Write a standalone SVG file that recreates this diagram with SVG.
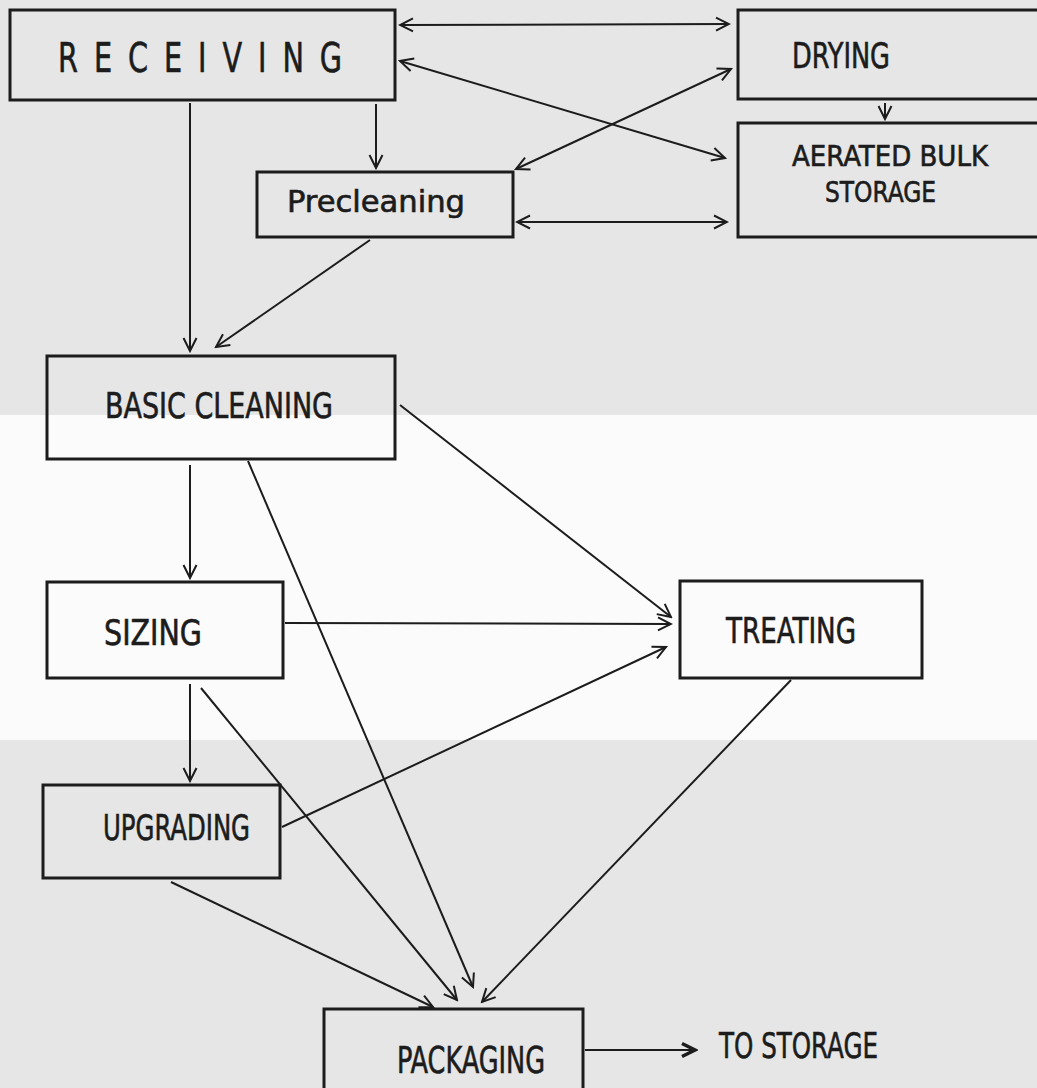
<svg xmlns="http://www.w3.org/2000/svg" width="1037" height="1088" viewBox="0 0 1037 1088">
  <style>
    .box { fill: none; stroke: #1c1c1c; stroke-width: 3; }
    .lbl { font-family: "DejaVu Sans Condensed", "DejaVu Sans", sans-serif; font-stretch: condensed; fill: #1c1c1c; stroke: #1c1c1c; stroke-width: 0.6; }
    .conn path { fill: none; stroke: #1c1c1c; stroke-width: 2; }
  </style>
  <defs>
    <marker id="ah" markerUnits="userSpaceOnUse" markerWidth="16" markerHeight="16" refX="14" refY="8" orient="auto-start-reverse">
      <path d="M1,1.5 L14,8 L1,14.5" fill="none" stroke="#1c1c1c" stroke-width="2"/>
    </marker>
    <marker id="ahb" markerUnits="userSpaceOnUse" markerWidth="18" markerHeight="18" refX="15" refY="9" orient="auto">
      <path d="M2,2.5 L15,9 L2,15.5" fill="none" stroke="#1c1c1c" stroke-width="3.5"/>
    </marker>
  </defs>

  <!-- paper background -->
  <rect x="0" y="0" width="1037" height="1088" fill="#e6e6e6"/>
  <rect x="0" y="415" width="1037" height="325" fill="#fbfbfb"/>

  <g id="receiving">
    <rect class="box" x="10" y="10" width="385" height="90"/>
    <text class="lbl" x="58" y="72" font-size="40" letter-spacing="20" textLength="300" lengthAdjust="spacingAndGlyphs">RECEIVING</text>
  </g>
  <g id="precleaning">
    <rect class="box" x="257" y="172" width="256" height="65"/>
    <text class="lbl" x="287" y="212" font-size="30" textLength="178" lengthAdjust="spacingAndGlyphs">Precleaning</text>
  </g>
  <g id="drying">
    <rect class="box" x="738" y="10" width="310" height="89"/>
    <text class="lbl" x="792" y="68" font-size="35" textLength="98" lengthAdjust="spacingAndGlyphs">DRYING</text>
  </g>
  <g id="aerated-bulk-storage">
    <rect class="box" x="738" y="123" width="310" height="114"/>
    <text class="lbl" x="792" y="166" font-size="29" textLength="196" lengthAdjust="spacingAndGlyphs">AERATED BULK</text>
    <text class="lbl" x="825" y="202" font-size="29" textLength="111" lengthAdjust="spacingAndGlyphs">STORAGE</text>
  </g>
  <g id="basic-cleaning">
    <rect class="box" x="47" y="356" width="348" height="103"/>
    <text class="lbl" x="105" y="418" font-size="36" textLength="228" lengthAdjust="spacingAndGlyphs">BASIC CLEANING</text>
  </g>
  <g id="sizing">
    <rect class="box" x="47" y="582" width="236" height="96"/>
    <text class="lbl" x="104" y="645" font-size="36" textLength="98" lengthAdjust="spacingAndGlyphs">SIZING</text>
  </g>
  <g id="treating">
    <rect class="box" x="680" y="581" width="242" height="97"/>
    <text class="lbl" x="726" y="643" font-size="36" textLength="130" lengthAdjust="spacingAndGlyphs">TREATING</text>
  </g>
  <g id="upgrading">
    <rect class="box" x="43" y="785" width="237" height="93"/>
    <text class="lbl" x="103" y="840" font-size="36" textLength="147" lengthAdjust="spacingAndGlyphs">UPGRADING</text>
  </g>
  <g id="packaging">
    <rect class="box" x="324" y="1009" width="259" height="90"/>
    <text class="lbl" x="397" y="1073" font-size="37" textLength="148" lengthAdjust="spacingAndGlyphs">PACKAGING</text>
  </g>
  <g id="to-storage">
    <text class="lbl" x="719" y="1058" font-size="36" textLength="159" lengthAdjust="spacingAndGlyphs">TO STORAGE</text>
  </g>

  <g id="connectors" class="conn">
    <path d="M400,25 L729,24" marker-start="url(#ah)" marker-end="url(#ah)"/>
    <path d="M400,61 L725,158" marker-start="url(#ah)" marker-end="url(#ah)"/>
    <path d="M516,169 L731,69" marker-start="url(#ah)" marker-end="url(#ah)"/>
    <path d="M517,222 L727,222" marker-start="url(#ah)" marker-end="url(#ah)"/>
    <path d="M885,103 L885,119" marker-end="url(#ah)"/>
    <path d="M376,104 L376,168" marker-end="url(#ah)"/>
    <path d="M190,103 L190,351" marker-end="url(#ah)"/>
    <path d="M370,240 L216,347" marker-end="url(#ah)"/>
    <path d="M190,465 L190,578" marker-end="url(#ah)"/>
    <path d="M400,405 L671,617" marker-end="url(#ah)"/>
    <path d="M248,461 L473,987" marker-end="url(#ah)"/>
    <path d="M285,623 L671,624" marker-end="url(#ah)"/>
    <path d="M190,684 L190,781" marker-end="url(#ah)"/>
    <path d="M201,688 L457,1000" marker-end="url(#ah)"/>
    <path d="M282,827 L666,647" marker-end="url(#ah)"/>
    <path d="M171,882 L433,1007" marker-end="url(#ah)"/>
    <path d="M791,680 L482,1002" marker-end="url(#ah)"/>
    <path d="M585,1050 L695,1050" stroke-width="3" marker-end="url(#ahb)"/>
  </g>
</svg>
